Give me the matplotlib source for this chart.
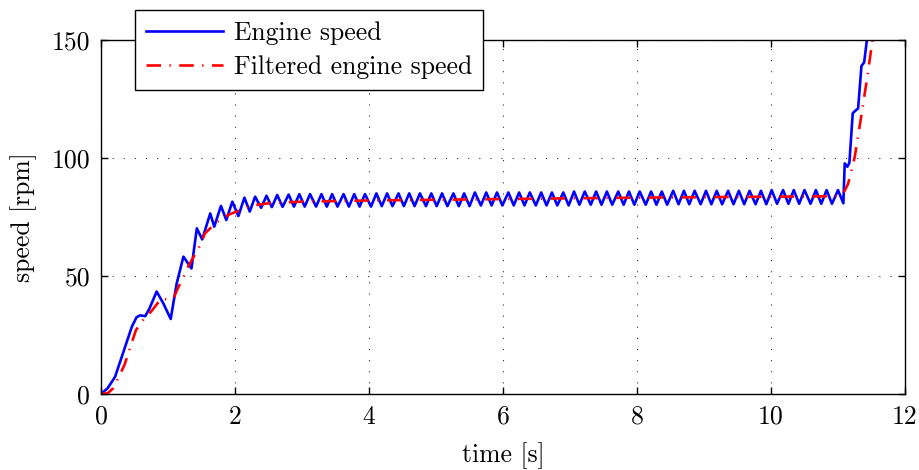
import numpy as np
import matplotlib
matplotlib.use('Agg')
import matplotlib.pyplot as plt

plt.rcParams['font.family'] = 'serif'
plt.rcParams['font.serif'] = ['cmr10', 'DejaVu Serif']
plt.rcParams['mathtext.fontset'] = 'cm'
plt.rcParams['axes.formatter.use_mathtext'] = False
plt.rcParams['font.size'] = 18.5

# Engine speed: start-up transient
t_start = [0.0, 0.1, 0.21, 0.36, 0.46, 0.53, 0.58, 0.66, 0.72, 0.83, 0.93, 1.04,
           1.13, 1.23, 1.35, 1.43, 1.51, 1.63, 1.69, 1.79, 1.87, 1.96, 2.05]
rpm_start = [0.0, 2.5, 7.3, 20.0, 28.5, 32.5, 33.3, 33.0, 36.0, 43.4, 38.4, 31.8,
             46.9, 58.2, 53.2, 70.2, 65.5, 76.5, 70.9, 79.7, 73.7, 81.5, 75.4]

# Engine speed: oscillation peaks and troughs
t_peak = [2.14, 2.30, 2.47, 2.63, 2.80, 2.96, 3.12, 3.29, 3.45, 3.62, 3.78,
          3.94, 4.11, 4.27, 4.44, 4.60, 4.76, 4.93, 5.09, 5.26, 5.42, 5.58,
          5.75, 5.91, 6.08, 6.24, 6.40, 6.57, 6.73, 6.90, 7.06, 7.22, 7.39,
          7.55, 7.72, 7.88, 8.04, 8.21, 8.37, 8.54, 8.70, 8.86, 9.03, 9.19,
          9.36, 9.52, 9.68, 9.85, 10.01, 10.18, 10.34, 10.50, 10.67, 10.83, 11.00]
rpm_peak = [83.2, 83.6, 84.0, 84.3, 84.5, 84.7, 84.7, 84.7, 84.7, 84.7, 84.7,
            84.7, 85.0, 85.0, 85.0, 85.0, 85.0, 85.0, 85.0, 85.0, 85.0, 85.4,
            85.4, 85.4, 85.4, 85.4, 85.4, 85.4, 85.4, 85.4, 85.8, 85.8, 85.8,
            85.8, 85.8, 85.8, 85.8, 85.8, 85.8, 86.1, 86.1, 86.1, 86.1, 86.1,
            86.1, 86.1, 86.1, 86.1, 86.4, 86.4, 86.4, 86.4, 86.4, 86.4, 86.4]
t_trough = [2.22, 2.39, 2.55, 2.71, 2.88, 3.04, 3.21, 3.37, 3.53, 3.70, 3.86,
            4.03, 4.19, 4.35, 4.52, 4.68, 4.85, 5.01, 5.17, 5.34, 5.50, 5.67,
            5.83, 5.99, 6.16, 6.32, 6.49, 6.65, 6.81, 6.98, 7.14, 7.31, 7.47,
            7.63, 7.80, 7.96, 8.13, 8.29, 8.45, 8.62, 8.78, 8.95, 9.11, 9.27,
            9.44, 9.60, 9.77, 9.93, 10.09, 10.26, 10.42, 10.59, 10.75, 10.91, 11.08]
rpm_trough = [77.3, 78.9, 79.2, 79.3, 79.4, 79.4, 79.4, 79.4, 79.4, 79.4, 79.4,
              79.4, 79.6, 79.6, 79.6, 79.6, 79.6, 79.6, 79.6, 79.6, 79.6, 79.9,
              79.9, 79.9, 79.9, 79.9, 79.9, 79.9, 79.9, 79.9, 80.2, 80.2, 80.2,
              80.2, 80.2, 80.2, 80.2, 80.2, 80.2, 80.4, 80.4, 80.4, 80.4, 80.4,
              80.4, 80.4, 80.4, 80.4, 80.6, 80.6, 80.6, 80.6, 80.6, 80.6, 80.8]

# Engine speed: final run-up
t_end = [11.10, 11.14, 11.17, 11.22, 11.27, 11.30, 11.35, 11.39, 11.44, 11.50]
rpm_end = [97.7, 96.3, 98.0, 119.0, 120.3, 121.0, 139.0, 140.5, 152.0, 165.0]

# Filtered engine speed
t_filt = [0.0, 0.1, 0.18, 0.35, 0.52, 0.63, 0.75, 0.9, 1.0, 1.08, 1.15, 1.23,
          1.30, 1.4, 1.48, 1.55, 1.68, 1.80, 1.95, 2.15, 2.30, 2.5, 2.75, 3.0,
          4.0, 5.0, 6.0, 7.0, 8.0, 9.0, 10.0, 11.0, 11.08, 11.15, 11.25, 11.33,
          11.43, 11.5, 11.55]
rpm_filt = [0.0, 0.3, 2.4, 12.3, 27.0, 31.4, 35.0, 40.5, 40.0, 40.5, 45.0, 49.5,
            54.0, 59.0, 63.0, 68.0, 71.6, 74.4, 76.5, 78.7, 80.0, 80.8, 81.2, 81.5,
            82.0, 82.3, 82.6, 82.9, 83.2, 83.4, 83.6, 83.8, 85.0, 89.0, 100.5, 114.7,
            133.0, 147.0, 158.0]

# merge peaks and troughs in time order
t_osc = []
rpm_osc = []
for tp, rp, tt, rt in zip(t_peak, rpm_peak, t_trough, rpm_trough):
    t_osc += [tp, tt]
    rpm_osc += [rp, rt]

t_engine = t_start + t_osc + t_end
rpm_engine = rpm_start + rpm_osc + rpm_end

fig = plt.figure(figsize=(9.2, 4.7), dpi=100)
ax = fig.add_axes([0.1098, 0.1617, 0.8739, 0.7532])

ax.plot(t_engine, rpm_engine, color='#0000ff', lw=1.9,
        solid_joinstyle='round', label='Engine speed')
ax.plot(t_filt, rpm_filt, color='#ff0000', lw=1.9,
        dashes=(5.5, 3.2, 0.5, 3.2), label='Filtered engine speed')

ax.set_xlim(0, 12)
ax.set_ylim(0, 150)
ax.set_xticks([0, 2, 4, 6, 8, 10, 12])
ax.set_yticks([0, 50, 100, 150])
ax.tick_params(direction='in', top=True, right=True, length=5, width=1, pad=8)
ax.grid(True, color='#333333', linestyle=(0, (1, 9)), linewidth=0.8)
for s in ax.spines.values():
    s.set_linewidth(1.0)

ax.set_xlabel('time [s]', labelpad=10)
ax.set_ylabel('speed [rpm]', labelpad=10)

leg = ax.legend(loc='lower left', bbox_to_anchor=(0.042, 0.859),
                borderaxespad=0, fancybox=False, framealpha=1,
                edgecolor='black', handlelength=3.0, handletextpad=0.45,
                borderpad=0.42, labelspacing=0.42)
leg.get_frame().set_linewidth(1.0)

fig.savefig('out.png', dpi=100)
